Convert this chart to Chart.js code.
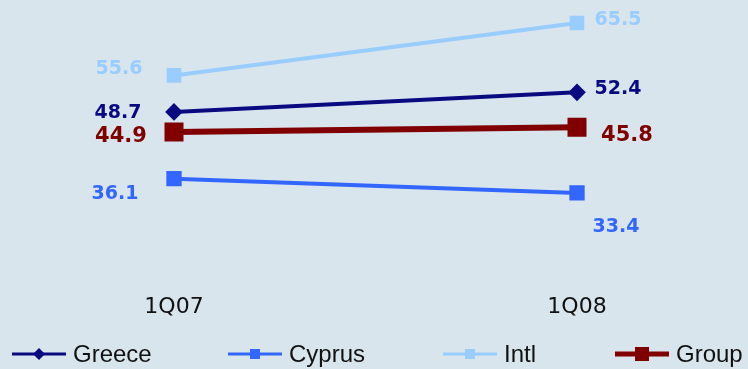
<!DOCTYPE html>
<html lang="en">
<head>
    <meta charset="UTF-8">
    <title>Cost / Income by Region</title>
    <style>
        body {
            margin: 0;
            background: #d8e5ed;
            overflow: hidden;
        }

        .chart-container {
            width: 748px;
            height: 369px;
        }
    </style>
</head>
<body>
<div class="chart-container">
    <canvas id="regionChart" width="748" height="369"></canvas>
</div>

<script src="https://cdn.jsdelivr.net/npm/chart.js"></script>
<script>
    // Quarters and values per region
    const quarters = ['1Q07', '1Q08'];
    const greece = [48.7, 52.4];
    const cyprus = [36.1, 33.4];
    const intl = [55.6, 65.5];
    const group = [44.9, 45.8];

    // Draws the value next to every point, shifted by the dataset's labelOffsets
    const valueLabels = {
        id: 'valueLabels',
        afterDatasetsDraw(chart) {
            const ctx = chart.ctx;
            ctx.save();
            ctx.textAlign = 'center';
            ctx.textBaseline = 'middle';
            chart.data.datasets.forEach((ds, i) => {
                const meta = chart.getDatasetMeta(i);
                ctx.fillStyle = ds.borderColor;
                ctx.font = 'bold ' + (ds.labelSize || 19) + 'px "DejaVu Sans"';
                meta.data.forEach((pt, j) => {
                    const off = ds.labelOffsets[j];
                    ctx.fillText(ds.data[j].toFixed(1), pt.x + off[0], pt.y + off[1]);
                });
            });
            ctx.restore();
        }
    };

    // Legend row at the bottom: line segment with the series marker, then the name
    const lineLegend = {
        id: 'lineLegend',
        afterDraw(chart, args, opts) {
            const ctx = chart.ctx;
            const y = opts.y;
            ctx.save();
            chart.data.datasets.forEach((ds, i) => {
                const x0 = opts.starts[i];
                const x1 = x0 + opts.lineLength;
                const mx = (x0 + x1) / 2;
                ctx.strokeStyle = ds.borderColor;
                ctx.lineWidth = ds.legendLine;
                ctx.beginPath();
                ctx.moveTo(x0, y);
                ctx.lineTo(x1, y);
                ctx.stroke();

                ctx.fillStyle = ds.borderColor;
                const r = ds.legendMarker;
                ctx.beginPath();
                if (ds.pointStyle === 'rectRot') {
                    ctx.moveTo(mx - r, y);
                    ctx.lineTo(mx, y - r);
                    ctx.lineTo(mx + r, y);
                    ctx.lineTo(mx, y + r);
                    ctx.closePath();
                } else {
                    ctx.rect(mx - r, y - r, r * 2, r * 2);
                }
                ctx.fill();

                ctx.fillStyle = '#111';
                ctx.font = '24px "Liberation Sans"';
                ctx.textAlign = 'left';
                ctx.textBaseline = 'middle';
                ctx.fillText(ds.label, x1 + opts.gap, y + 1);
            });
            ctx.restore();
        }
    };

    const ctx = document.getElementById('regionChart').getContext('2d');
    const regionChart = new Chart(ctx, {
        type: 'line',
        data: {
            labels: quarters,
            datasets: [{
                label: 'Greece',
                data: greece,
                borderColor: '#0a0a80',
                backgroundColor: '#0a0a80',
                borderWidth: 4,
                pointStyle: 'rectRot',
                pointRadius: 6,
                legendLine: 3,
                legendMarker: 6,
                labelOffsets: [[-56, 1], [41, -3]]
            }, {
                label: 'Cyprus',
                data: cyprus,
                borderColor: '#3366ff',
                backgroundColor: '#3366ff',
                borderWidth: 4,
                pointStyle: 'rect',
                pointRadius: 8,
                legendLine: 3,
                legendMarker: 5,
                labelOffsets: [[-59, 15], [39, 34]]
            }, {
                label: 'Intl',
                data: intl,
                borderColor: '#99ccff',
                backgroundColor: '#99ccff',
                borderWidth: 4,
                pointStyle: 'rect',
                pointRadius: 7.5,
                legendLine: 3,
                legendMarker: 5,
                labelOffsets: [[-55, -6], [41, -3]]
            }, {
                label: 'Group',
                data: group,
                borderColor: '#800000',
                backgroundColor: '#800000',
                borderWidth: 6,
                pointStyle: 'rect',
                pointRadius: 9.2,
                legendLine: 5,
                legendMarker: 7,
                labelSize: 21,
                labelOffsets: [[-53, 4], [50, 8]]
            }]
        },
        options: {
            responsive: false,
            animation: false,
            clip: false,
            layout: {
                padding: { left: 174, right: 171, top: 0, bottom: 50 }
            },
            scales: {
                x: {
                    offset: false,
                    grid: { display: false },
                    border: { display: false },
                    afterFit(scale) { scale.height = 49; },
                    ticks: {
                        color: '#111',
                        padding: 16,
                        maxRotation: 0,
                        font: { family: 'DejaVu Sans', size: 22 }
                    }
                },
                y: {
                    display: false,
                    min: 18.85,
                    max: 66.97
                }
            },
            plugins: {
                legend: { display: false },
                tooltip: { enabled: false },
                lineLegend: {
                    y: 354,
                    starts: [12, 228, 443, 615],
                    lineLength: 54,
                    gap: 7
                }
            }
        },
        plugins: [valueLabels, lineLegend]
    });
</script>
</body>
</html>
